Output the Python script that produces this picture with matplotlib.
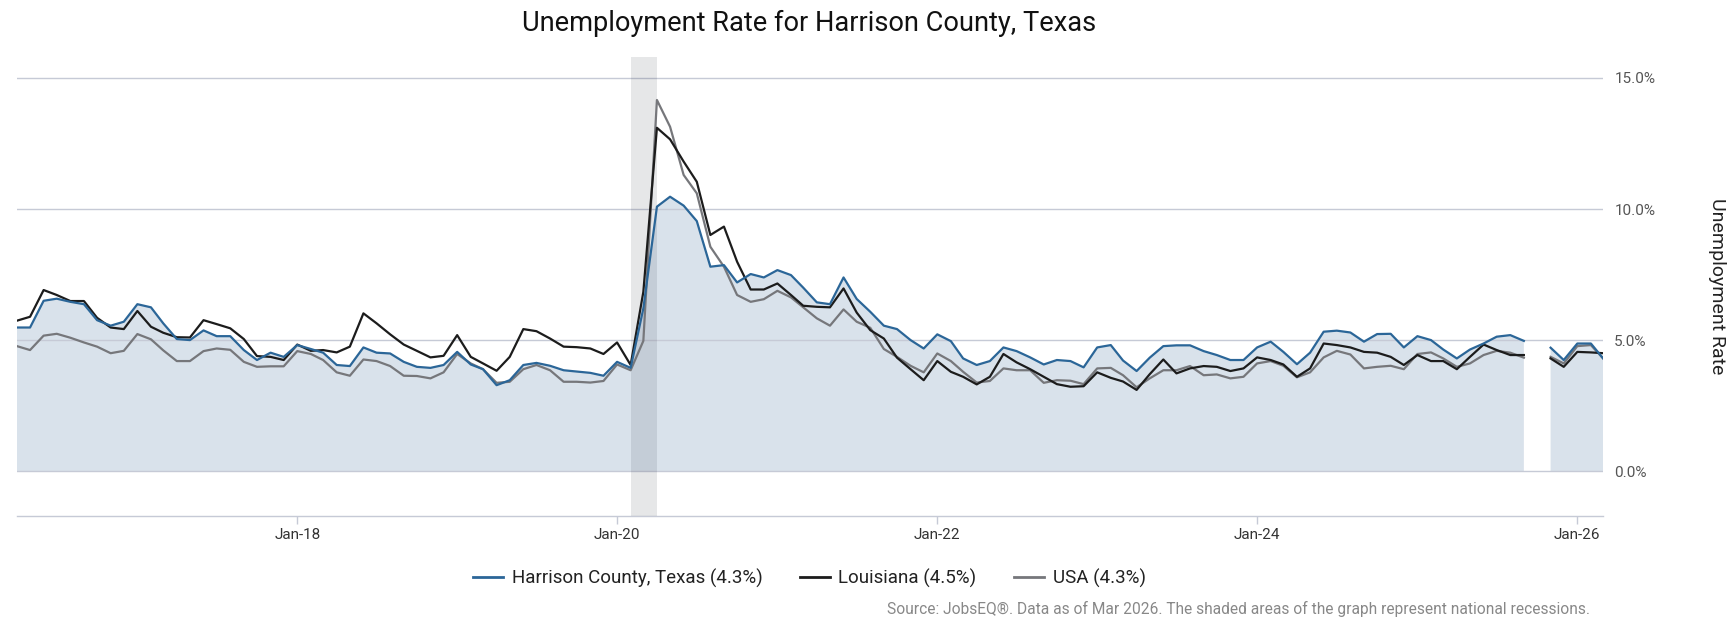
import numpy as np
import pandas as pd
import matplotlib
matplotlib.use("Agg")
import matplotlib.pyplot as plt
import matplotlib.dates as mdates
from matplotlib.lines import Line2D

plt.rcParams['font.family'] = ['Roboto', 'DejaVu Sans']

# monthly unemployment rate, Apr 2016 - Mar 2026 (Oct 2025 missing)
months = pd.date_range("2016-04-01", periods=120, freq="MS")

harrison = [5.48, 5.48, 6.50, 6.58, 6.46, 6.37, 5.76, 5.55, 5.70, 6.37, 6.25, 5.64,
            5.04, 5.00, 5.37, 5.15, 5.15, 4.62, 4.24, 4.52, 4.36, 4.81, 4.66, 4.52,
            4.05, 4.01, 4.72, 4.52, 4.49, 4.17, 3.98, 3.94, 4.05, 4.55, 4.07, 3.89,
            3.28, 3.47, 4.05, 4.13, 4.02, 3.85, 3.80, 3.75, 3.64, 4.17, 3.94, 6.21,
            10.09, 10.47, 10.13, 9.54, 7.80, 7.86, 7.20, 7.52, 7.39, 7.67, 7.48, 7.00,
            6.44, 6.37, 7.39, 6.57, 6.08, 5.55, 5.42, 5.00, 4.68, 5.22, 4.96, 4.30,
            4.05, 4.20, 4.72, 4.58, 4.34, 4.07, 4.24, 4.20, 3.96, 4.72, 4.81, 4.22,
            3.82, 4.33, 4.77, 4.80, 4.80, 4.58, 4.43, 4.24, 4.24, 4.72, 4.94, 4.55,
            4.08, 4.52, 5.32, 5.36, 5.29, 4.94, 5.23, 5.24, 4.72, 5.15, 5.00, 4.64,
            4.30, 4.64, 4.87, 5.13, 5.19, 4.97, np.nan, 4.71, 4.24, 4.87, 4.87, 4.30]

louisiana = [5.74, 5.89, 6.91, 6.72, 6.49, 6.49, 5.85, 5.48, 5.42, 6.11, 5.51, 5.28,
             5.11, 5.10, 5.76, 5.61, 5.45, 5.04, 4.39, 4.36, 4.24, 4.83, 4.59, 4.62,
             4.53, 4.75, 6.02, 5.64, 5.22, 4.83, 4.59, 4.34, 4.40, 5.19, 4.36, 4.11,
             3.83, 4.36, 5.42, 5.34, 5.06, 4.75, 4.73, 4.68, 4.47, 4.91, 4.05, 6.84,
             13.10, 12.66, 11.81, 11.04, 9.01, 9.33, 7.99, 6.93, 6.93, 7.16, 6.72, 6.31,
             6.27, 6.25, 6.97, 6.05, 5.38, 5.06, 4.33, 3.89, 3.47, 4.20, 3.79, 3.60,
             3.31, 3.60, 4.47, 4.15, 3.89, 3.60, 3.32, 3.22, 3.24, 3.77, 3.56, 3.42,
             3.10, 3.70, 4.26, 3.73, 3.92, 4.01, 3.98, 3.82, 3.92, 4.34, 4.24, 4.07,
             3.60, 3.92, 4.87, 4.81, 4.72, 4.55, 4.52, 4.36, 4.05, 4.43, 4.20, 4.20,
             3.89, 4.36, 4.83, 4.62, 4.43, 4.43, np.nan, 4.30, 3.98, 4.55, 4.53, 4.50]

usa = [4.77, 4.62, 5.17, 5.24, 5.09, 4.91, 4.75, 4.50, 4.59, 5.23, 5.03, 4.61,
       4.20, 4.20, 4.58, 4.68, 4.63, 4.17, 3.98, 4.00, 4.00, 4.58, 4.47, 4.24,
       3.77, 3.64, 4.26, 4.20, 4.01, 3.64, 3.63, 3.54, 3.77, 4.47, 4.11, 3.89,
       3.37, 3.41, 3.89, 4.05, 3.85, 3.41, 3.41, 3.38, 3.44, 4.07, 3.85, 4.97,
       14.16, 13.14, 11.30, 10.60, 8.56, 7.80, 6.72, 6.46, 6.56, 6.88, 6.63, 6.25,
       5.83, 5.55, 6.17, 5.70, 5.47, 4.66, 4.36, 4.02, 3.77, 4.49, 4.20, 3.79,
       3.38, 3.44, 3.92, 3.85, 3.85, 3.37, 3.47, 3.45, 3.32, 3.92, 3.94, 3.66,
       3.20, 3.54, 3.85, 3.85, 4.01, 3.66, 3.69, 3.54, 3.60, 4.11, 4.20, 4.02,
       3.58, 3.77, 4.34, 4.59, 4.45, 3.92, 3.98, 4.02, 3.89, 4.47, 4.53, 4.30,
       3.98, 4.11, 4.43, 4.59, 4.52, 4.33, np.nan, 4.36, 4.11, 4.77, 4.81, 4.30]

series_names = ["Harrison County, Texas (4.3%)", "Louisiana (4.5%)", "USA (4.3%)"]
recession_start = pd.Timestamp("2020-02-01")
recession_end = pd.Timestamp("2020-04-01")
yticks = [0, 5, 10, 15]
ytick_labels = ["0.0%", "5.0%", "10.0%", "15.0%"]

blue = "#2b6698"
black = "#1c1c1c"
gray = "#76777b"
fill = "#d9e2eb"
grid = "#c6cad6"

fig = plt.figure(figsize=(17.27, 6.23), dpi=100)
ax = fig.add_axes([0.00979, 0.1722, 0.9185, 0.7363])

ax.fill_between(months, 0, harrison, color=fill, lw=0, zorder=1)
for y in yticks:
    ax.axhline(y, color=grid, lw=1.0, zorder=2)
ax.axvspan(recession_start, recession_end, color="#111827", alpha=0.1, lw=0, zorder=3)

ax.plot(months, usa, color=gray, lw=1.6, zorder=4)
ax.plot(months, louisiana, color=black, lw=1.6, zorder=5)
ax.plot(months, harrison, color=blue, lw=1.6, zorder=6)

ax.set_xlim(months[0], months[-1])
ax.set_ylim(-1.7, 15.8)

ax.xaxis.set_major_locator(mdates.YearLocator(base=2))
ax.xaxis.set_major_formatter(mdates.DateFormatter("%b-%y"))
ax.tick_params(axis="x", length=5.8, width=1, color=grid, pad=3, labelsize=11, labelcolor="#333333")

ax.yaxis.tick_right()
ax.set_yticks(yticks)
ax.set_yticklabels(ytick_labels)
ax.tick_params(axis="y", length=0, pad=8, labelsize=11, labelcolor="#555555")

for side in ["top", "left", "right"]:
    ax.spines[side].set_visible(False)
ax.spines["bottom"].set_color(grid)
ax.spines["bottom"].set_linewidth(1.0)

fig.text(0.4687, 1 - 31 / 623, "Unemployment Rate for Harrison County, Texas",
         ha="center", va="baseline", fontsize=19.6, color="#111111")
fig.text(1716.7 / 1727, 1 - 286 / 623, "Unemployment Rate", rotation=270,
         ha="center", va="center", fontsize=14, color="#222222")

handles = [Line2D([], [], color=c, lw=2) for c in [blue, black, gray]]
fig.legend(handles, series_names, loc="center", bbox_to_anchor=(0.4687, 1 - 578 / 623),
           ncol=3, frameon=False, fontsize=13.5, handlelength=1.6, handletextpad=0.45,
           columnspacing=2.0, labelcolor="#222222")

fig.text(1590 / 1727, 1 - 609 / 623,
         "Source: JobsEQ\u00ae. Data as of Mar 2026. The shaded areas of the graph represent national recessions.",
         ha="right", va="center", fontsize=11.2, color="#888888")

fig.savefig("out.png", dpi=100)
